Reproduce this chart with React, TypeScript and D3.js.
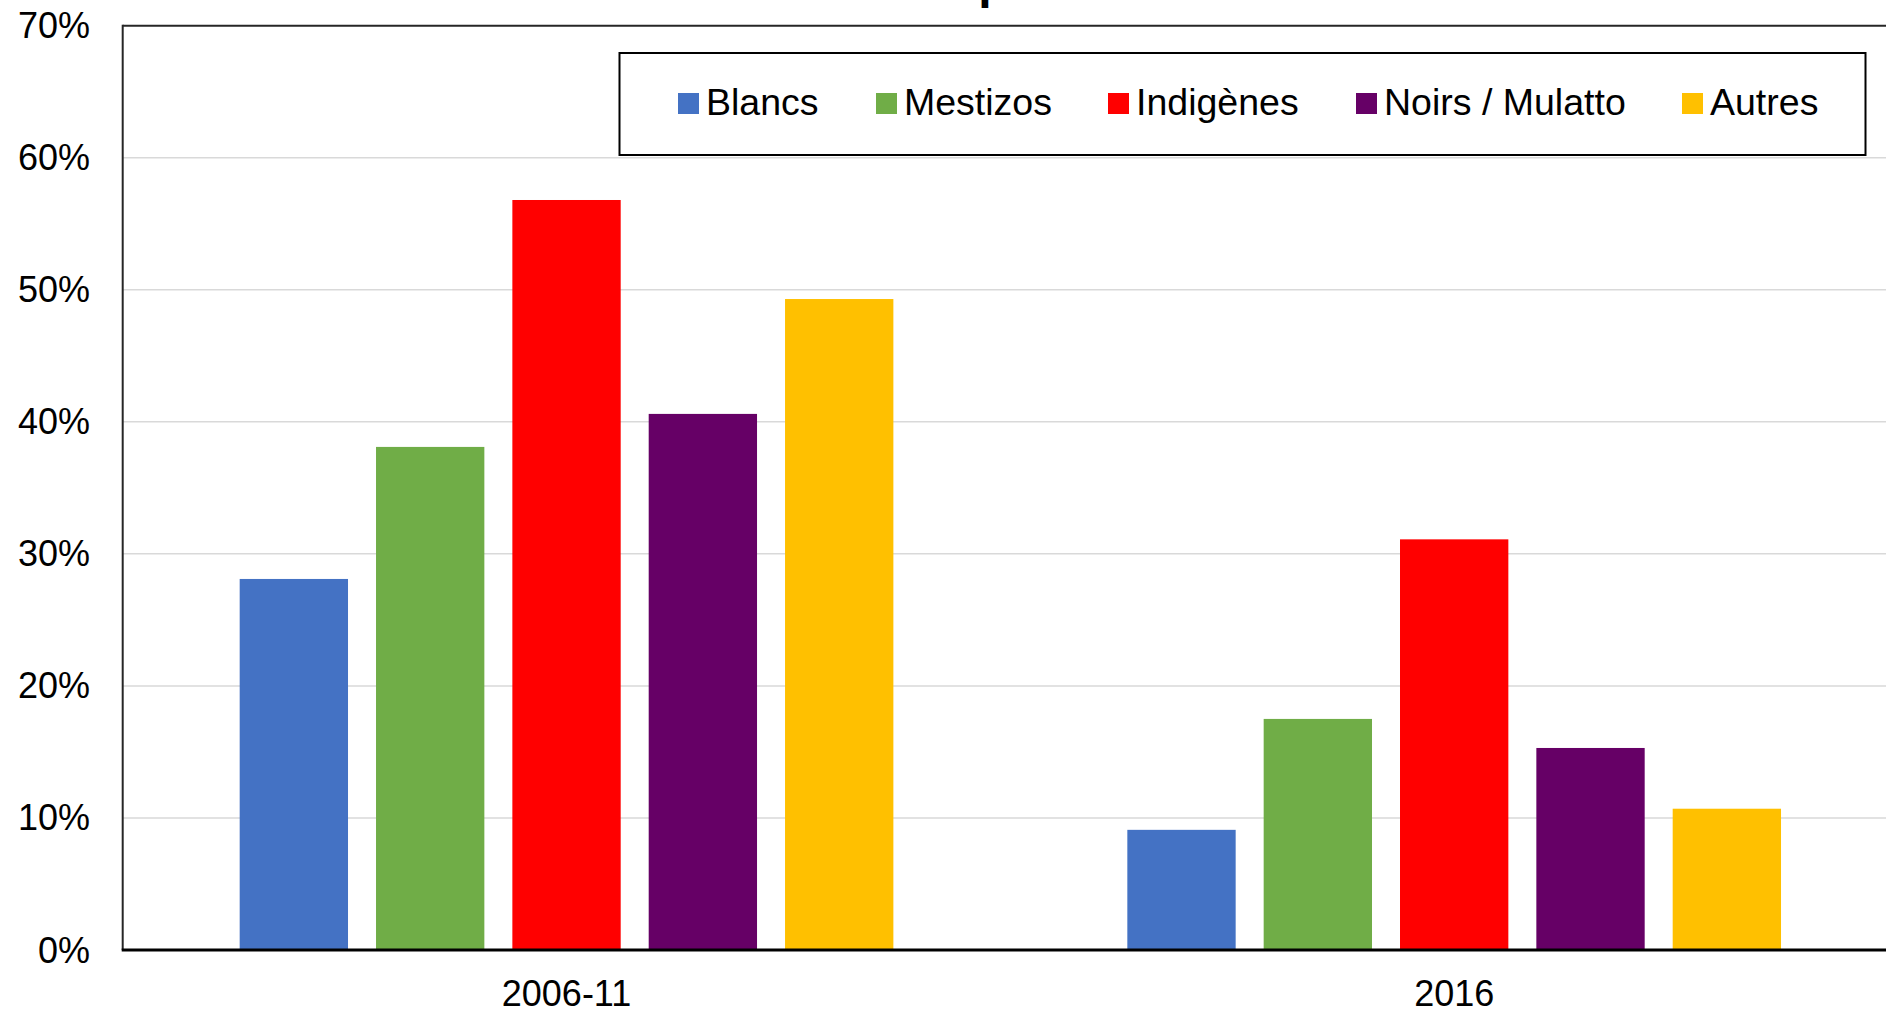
import React from "react";
import * as d3 from "d3";

const categories = ["2006-11", "2016"];
const seriesNames = ["Blancs", "Mestizos", "Indigènes", "Noirs / Mulatto", "Autres"];
const seriesColors = ["#4472C4", "#70AD47", "#FF0000", "#660066", "#FFC000"];
const blancs = [28.1, 9.1];
const mestizos = [38.1, 17.5];
const indigenes = [56.8, 31.1];
const noirs = [40.6, 15.3];
const autres = [49.3, 10.7];
const yTicks = [0, 10, 20, 30, 40, 50, 60, 70];
const titleText = "Taux de pauvreté";

const seriesValues = [blancs, mestizos, indigenes, noirs, autres];

// legend layout (pixel positions of the swatches)
const legendSwatchX = [678, 876, 1108, 1356, 1682];

const W = 1886;
const H = 1011;
const FONT = "'Liberation Sans', Arial, Helvetica, sans-serif";

export default function App() {
  const left = 122.7;
  const right = 1898;
  const top = 25.7;
  const bottom = 950;

  const y = d3.scaleLinear().domain([0, 70]).range([bottom, top]);
  const x0 = d3.scaleBand<string>().domain(categories).range([left, right]).paddingInner(0).paddingOuter(0);
  const x1 = d3
    .scaleBand<string>()
    .domain(seriesNames)
    .range([0, x0.bandwidth()])
    .paddingInner(0.2054)
    .paddingOuter(0.858);

  return (
    <svg
      width={W}
      height={H}
      style={{ position: "absolute", left: 0, top: 0, background: "#fff" }}
      fontFamily={FONT}
    >
      <rect x={0} y={0} width={W} height={H} fill="#fff" />
      <text x={787} y={-2} fontSize={48} fontWeight="bold" fill="#000">
        {titleText}
      </text>
      {/* gridlines */}
      {yTicks
        .filter((t) => t > 0 && t < 70)
        .map((t) => (
          <line key={t} x1={left} x2={W} y1={y(t)} y2={y(t)} stroke="#d9d9d9" strokeWidth={1.5} />
        ))}
      {/* bars */}
      {seriesNames.map((s, si) =>
        categories.map((c, ci) => (
          <rect
            key={s + c}
            x={(x0(c) as number) + (x1(s) as number)}
            y={y(seriesValues[si][ci])}
            width={x1.bandwidth()}
            height={y(0) - y(seriesValues[si][ci])}
            fill={seriesColors[si]}
          />
        ))
      )}
      {/* frame */}
      <line x1={left} x2={W} y1={top} y2={top} stroke="#262626" strokeWidth={2} />
      <line x1={left} x2={left} y1={top - 1} y2={bottom} stroke="#262626" strokeWidth={2} />
      <line x1={left - 1} x2={W} y1={bottom} y2={bottom} stroke="#000" strokeWidth={3} />
      {/* y labels */}
      {yTicks.map((t) => (
        <text key={t} x={90} y={y(t) + 12.5} textAnchor="end" fontSize={36} fill="#000">
          {t}%
        </text>
      ))}
      {/* x labels */}
      {categories.map((c) => (
        <text
          key={c}
          x={(x0(c) as number) + x0.bandwidth() / 2}
          y={bottom + 56}
          textAnchor="middle"
          fontSize={36}
          fill="#000"
        >
          {c}
        </text>
      ))}
      {/* legend */}
      <rect x={619.5} y={53} width={1246} height={102} fill="#fff" stroke="#000" strokeWidth={2} />
      {seriesNames.map((name, i) => (
        <g key={name}>
          <rect x={legendSwatchX[i]} y={93} width={21} height={21} fill={seriesColors[i]} />
          <text x={legendSwatchX[i] + 28} y={115} fontSize={37.5} fill="#000">
            {name}
          </text>
        </g>
      ))}
    </svg>
  );
}
